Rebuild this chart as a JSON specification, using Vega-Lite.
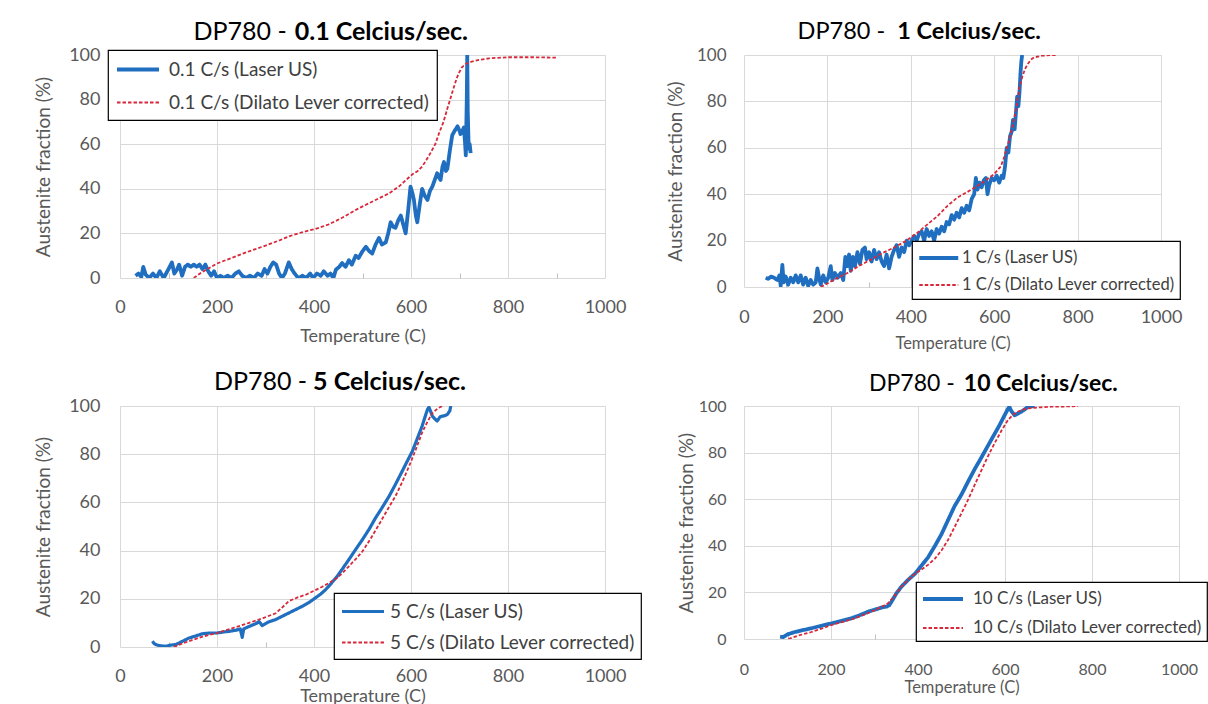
{
  "$schema": "https://vega.github.io/schema/vega-lite/v6.json",
  "background": "white",
  "padding": {"left": 34, "top": 20, "right": 5, "bottom": 3},
  "columns": 2,
  "bounds": "flush",
  "align": "each",
  "spacing": {"row": 119, "column": 139},
  "resolve": {
    "scale": {"color": "independent", "strokeDash": "independent", "strokeWidth": "independent"},
    "legend": {"color": "independent", "strokeDash": "independent", "strokeWidth": "independent"}
  },
  "config": {
    "font": "Lato",
    "view": {"stroke": null},
    "axis": {"domain": false, "labelColor": "#595959", "titleColor": "#595959", "titleFontWeight": "normal", "labelFont": "Lato", "titleFont": "Lato", "gridWidth": 1, "format": "d"},
    "legend": {"labelFont": "Lato", "labelColor": "#404040", "strokeColor": "#000000", "fillColor": "#ffffff", "strokeWidth": 1.2, "labelLimit": 0},
    "text": {"font": "Lato"}
  },
  "datasets": {
    "p1_laser": [{"t":32,"f":1},{"t":38,"f":2},{"t":44,"f":0.5},{"t":48,"f":5},{"t":53,"f":1.5},{"t":60,"f":0},{"t":68,"f":2},{"t":75,"f":0},{"t":82,"f":3},{"t":90,"f":0},{"t":100,"f":4},{"t":107,"f":7},{"t":112,"f":2},{"t":118,"f":4},{"t":122,"f":6},{"t":128,"f":1},{"t":134,"f":5},{"t":140,"f":6},{"t":146,"f":5},{"t":152,"f":6},{"t":158,"f":5},{"t":164,"f":6},{"t":170,"f":4},{"t":176,"f":6},{"t":182,"f":3},{"t":188,"f":1},{"t":194,"f":3},{"t":200,"f":0},{"t":207,"f":1},{"t":214,"f":0},{"t":222,"f":1},{"t":230,"f":0},{"t":238,"f":2},{"t":245,"f":3},{"t":252,"f":1},{"t":260,"f":0},{"t":268,"f":1},{"t":276,"f":0},{"t":284,"f":2},{"t":292,"f":1},{"t":298,"f":4},{"t":304,"f":2},{"t":310,"f":5},{"t":316,"f":7},{"t":322,"f":6},{"t":328,"f":2},{"t":334,"f":0},{"t":340,"f":2},{"t":348,"f":7},{"t":354,"f":4},{"t":360,"f":2},{"t":368,"f":0},{"t":376,"f":1},{"t":384,"f":0},{"t":392,"f":2},{"t":398,"f":0},{"t":406,"f":2},{"t":414,"f":1},{"t":420,"f":3},{"t":428,"f":1},{"t":434,"f":2},{"t":440,"f":0},{"t":445,"f":3.7},{"t":452,"f":5},{"t":458,"f":6.7},{"t":465,"f":5},{"t":472,"f":8},{"t":478,"f":6},{"t":486,"f":10},{"t":492,"f":9},{"t":500,"f":12},{"t":507,"f":14},{"t":514,"f":12},{"t":520,"f":11},{"t":527,"f":15},{"t":534,"f":18},{"t":540,"f":15},{"t":548,"f":16},{"t":553,"f":20},{"t":558,"f":25},{"t":563,"f":23},{"t":568,"f":22.5},{"t":574,"f":26},{"t":579,"f":28},{"t":584,"f":24},{"t":589,"f":20},{"t":594,"f":30},{"t":599,"f":41},{"t":603,"f":38},{"t":606,"f":35},{"t":610,"f":28},{"t":613,"f":25},{"t":618,"f":33},{"t":623,"f":40},{"t":628,"f":37},{"t":634,"f":35},{"t":639,"f":39},{"t":644,"f":41},{"t":649,"f":44},{"t":654,"f":47},{"t":658,"f":45},{"t":661,"f":44},{"t":665,"f":50},{"t":668,"f":52},{"t":672,"f":48},{"t":675,"f":49},{"t":680,"f":57},{"t":685,"f":64},{"t":690,"f":66},{"t":696,"f":68},{"t":700,"f":66},{"t":702,"f":64.5},{"t":706,"f":66},{"t":709,"f":67.5},{"t":711,"f":62},{"t":713,"f":55},{"t":715,"f":80},{"t":716,"f":100},{"t":717,"f":75},{"t":719,"f":58},{"t":721,"f":60},{"t":723,"f":56}],
    "p1_dil": [{"t":152,"f":0},{"t":165,"f":2},{"t":180,"f":4},{"t":200,"f":6.5},{"t":230,"f":9},{"t":260,"f":11.5},{"t":300,"f":14.5},{"t":330,"f":17},{"t":350,"f":18.8},{"t":375,"f":20.5},{"t":403,"f":22},{"t":430,"f":24},{"t":458,"f":27},{"t":490,"f":31},{"t":527,"f":35},{"t":555,"f":38},{"t":575,"f":41},{"t":590,"f":44},{"t":603,"f":46.5},{"t":614,"f":48},{"t":623,"f":50},{"t":632,"f":53},{"t":640,"f":56},{"t":650,"f":60},{"t":658,"f":65},{"t":667,"f":70},{"t":675,"f":76},{"t":682,"f":81},{"t":689,"f":86},{"t":695,"f":90},{"t":699,"f":92},{"t":705,"f":94.5},{"t":713,"f":96},{"t":725,"f":97},{"t":740,"f":97.8},{"t":761,"f":98.5},{"t":800,"f":99},{"t":850,"f":99},{"t":900,"f":98.8}],
    "p2_laser": [{"t":52,"f":4},{"t":58,"f":3.5},{"t":65,"f":4.5},{"t":72,"f":4},{"t":80,"f":3},{"t":85,"f":5},{"t":88,"f":0.5},{"t":92,"f":9.5},{"t":95,"f":2},{"t":100,"f":4.5},{"t":106,"f":1},{"t":112,"f":4},{"t":118,"f":2},{"t":124,"f":5},{"t":130,"f":2},{"t":136,"f":5},{"t":142,"f":1},{"t":148,"f":4},{"t":154,"f":0.5},{"t":160,"f":3},{"t":166,"f":1},{"t":172,"f":2},{"t":176,"f":8},{"t":180,"f":4},{"t":184,"f":1},{"t":190,"f":5},{"t":196,"f":2},{"t":202,"f":4},{"t":208,"f":9},{"t":212,"f":3},{"t":218,"f":6},{"t":225,"f":4},{"t":232,"f":6},{"t":238,"f":3},{"t":243,"f":13},{"t":248,"f":9},{"t":252,"f":14},{"t":256,"f":7},{"t":261,"f":13},{"t":266,"f":9},{"t":272,"f":15},{"t":278,"f":10},{"t":284,"f":16},{"t":290,"f":17},{"t":294,"f":12},{"t":300,"f":15},{"t":306,"f":11},{"t":312,"f":16},{"t":318,"f":12},{"t":324,"f":15},{"t":330,"f":11},{"t":336,"f":9},{"t":342,"f":14},{"t":348,"f":8},{"t":354,"f":13},{"t":360,"f":16},{"t":366,"f":18},{"t":372,"f":13},{"t":378,"f":17},{"t":384,"f":15},{"t":390,"f":20},{"t":396,"f":18},{"t":402,"f":20},{"t":408,"f":22},{"t":414,"f":20},{"t":420,"f":23},{"t":426,"f":24},{"t":432,"f":20},{"t":438,"f":25},{"t":444,"f":22},{"t":450,"f":24},{"t":456,"f":20},{"t":462,"f":25},{"t":468,"f":23},{"t":474,"f":26},{"t":480,"f":24},{"t":486,"f":28},{"t":492,"f":27},{"t":498,"f":31},{"t":504,"f":29},{"t":510,"f":32},{"t":516,"f":30},{"t":522,"f":34},{"t":528,"f":32},{"t":534,"f":35},{"t":540,"f":33},{"t":546,"f":38},{"t":552,"f":40},{"t":556,"f":47},{"t":560,"f":42},{"t":565,"f":45},{"t":570,"f":43},{"t":575,"f":46},{"t":580,"f":47},{"t":584,"f":40},{"t":588,"f":44},{"t":594,"f":47},{"t":600,"f":46},{"t":606,"f":48},{"t":612,"f":45},{"t":618,"f":48},{"t":622,"f":47},{"t":626,"f":52},{"t":630,"f":60},{"t":634,"f":58},{"t":638,"f":65},{"t":642,"f":67},{"t":645,"f":72},{"t":649,"f":68},{"t":652,"f":75},{"t":655,"f":82},{"t":658,"f":78},{"t":661,"f":85},{"t":663,"f":92},{"t":665,"f":97},{"t":667,"f":100}],
    "p2_dil": [{"t":184,"f":0},{"t":200,"f":1.5},{"t":225,"f":4},{"t":248,"f":6},{"t":275,"f":9},{"t":304,"f":11.8},{"t":330,"f":14.5},{"t":360,"f":17},{"t":390,"f":20},{"t":416,"f":23.4},{"t":440,"f":27},{"t":464,"f":30.6},{"t":488,"f":35},{"t":512,"f":38.6},{"t":536,"f":41},{"t":560,"f":43.6},{"t":580,"f":46},{"t":600,"f":48.7},{"t":616,"f":52},{"t":624,"f":56},{"t":632,"f":61},{"t":640,"f":66},{"t":648,"f":72.5},{"t":655,"f":79},{"t":660,"f":85.5},{"t":664,"f":88.5},{"t":668,"f":91},{"t":674,"f":94},{"t":680,"f":96},{"t":688,"f":98},{"t":696,"f":99},{"t":715,"f":99.7},{"t":736,"f":100},{"t":748,"f":100}],
    "p3_laser": [{"t":67,"f":2.4},{"t":70,"f":1.5},{"t":74,"f":1},{"t":80,"f":0.6},{"t":94,"f":0.3},{"t":105,"f":0.8},{"t":115,"f":1},{"t":125,"f":2},{"t":135,"f":3},{"t":142,"f":3.7},{"t":155,"f":4.5},{"t":170,"f":5.5},{"t":185,"f":5.8},{"t":200,"f":5.8},{"t":212,"f":6.2},{"t":225,"f":6.5},{"t":240,"f":7},{"t":248,"f":7.5},{"t":252,"f":4},{"t":255,"f":7.5},{"t":266,"f":8.5},{"t":280,"f":9.7},{"t":287,"f":10.5},{"t":293,"f":8.9},{"t":305,"f":10.3},{"t":321,"f":11.4},{"t":335,"f":12.8},{"t":348,"f":14.1},{"t":362,"f":15.5},{"t":376,"f":16.9},{"t":390,"f":18.5},{"t":403,"f":20.4},{"t":414,"f":22},{"t":424,"f":23.8},{"t":436,"f":26.5},{"t":448,"f":29.4},{"t":460,"f":32.8},{"t":472,"f":36.3},{"t":486,"f":40.5},{"t":500,"f":44.6},{"t":514,"f":49},{"t":527,"f":53.6},{"t":541,"f":58},{"t":555,"f":62.6},{"t":568,"f":67.5},{"t":582,"f":73},{"t":592,"f":77},{"t":603,"f":81.3},{"t":613,"f":86.5},{"t":623,"f":91.7},{"t":629,"f":95.5},{"t":634,"f":98.6},{"t":637,"f":99.5},{"t":640,"f":98},{"t":644,"f":95.8},{"t":650,"f":94.5},{"t":654,"f":93.8},{"t":660,"f":95.5},{"t":665,"f":95.8},{"t":670,"f":96},{"t":675,"f":96.5},{"t":680,"f":98},{"t":682,"f":100}],
    "p3_dil": [{"t":111,"f":0},{"t":125,"f":1.2},{"t":142,"f":2.4},{"t":170,"f":4.3},{"t":200,"f":5.8},{"t":235,"f":8},{"t":266,"f":10},{"t":295,"f":12},{"t":321,"f":14},{"t":335,"f":16.5},{"t":348,"f":19},{"t":365,"f":20.5},{"t":383,"f":21.7},{"t":400,"f":23.3},{"t":417,"f":25},{"t":433,"f":26.8},{"t":448,"f":28.7},{"t":460,"f":31},{"t":472,"f":33.5},{"t":486,"f":36.5},{"t":500,"f":39.7},{"t":517,"f":45},{"t":534,"f":50.8},{"t":551,"f":56.8},{"t":568,"f":62.6},{"t":582,"f":68.5},{"t":596,"f":75},{"t":610,"f":82},{"t":623,"f":89},{"t":634,"f":93.5},{"t":644,"f":97},{"t":655,"f":99},{"t":665,"f":100}],
    "p4_laser": [{"t":83,"f":1},{"t":90,"f":0.8},{"t":100,"f":2},{"t":117,"f":3},{"t":135,"f":3.8},{"t":155,"f":4.6},{"t":178,"f":5.7},{"t":201,"f":6.7},{"t":225,"f":7.8},{"t":247,"f":8.9},{"t":266,"f":10.2},{"t":285,"f":11.7},{"t":297,"f":12.4},{"t":308,"f":13},{"t":318,"f":13.6},{"t":328,"f":13.9},{"t":334,"f":14.5},{"t":339,"f":16},{"t":350,"f":19.5},{"t":362,"f":22.5},{"t":378,"f":25.5},{"t":393,"f":28},{"t":408,"f":31.5},{"t":423,"f":35},{"t":439,"f":40},{"t":454,"f":45},{"t":469,"f":51},{"t":484,"f":57},{"t":500,"f":62},{"t":515,"f":67.5},{"t":530,"f":72.8},{"t":546,"f":78},{"t":561,"f":83},{"t":576,"f":88},{"t":588,"f":92},{"t":599,"f":96},{"t":606,"f":98.5},{"t":610,"f":99.7},{"t":614,"f":98},{"t":622,"f":96},{"t":630,"f":96.8},{"t":637,"f":97.5},{"t":645,"f":98.5},{"t":653,"f":99.7},{"t":668,"f":100}],
    "p4_dil": [{"t":102,"f":0},{"t":125,"f":1.5},{"t":155,"f":3},{"t":180,"f":4.6},{"t":201,"f":6},{"t":230,"f":7.5},{"t":255,"f":8.9},{"t":280,"f":10.7},{"t":301,"f":12.4},{"t":316,"f":13.8},{"t":331,"f":15.3},{"t":346,"f":18.5},{"t":362,"f":22.5},{"t":378,"f":25.5},{"t":393,"f":28},{"t":408,"f":29.8},{"t":423,"f":31.8},{"t":439,"f":34.5},{"t":454,"f":38},{"t":469,"f":42.5},{"t":484,"f":48},{"t":500,"f":54},{"t":515,"f":59.7},{"t":530,"f":66},{"t":546,"f":72.5},{"t":561,"f":78.5},{"t":576,"f":84},{"t":592,"f":89.5},{"t":607,"f":94},{"t":618,"f":96.2},{"t":630,"f":97.6},{"t":641,"f":98.4},{"t":653,"f":99},{"t":680,"f":99.4},{"t":706,"f":99.7},{"t":740,"f":99.8},{"t":768,"f":100}]
  },
  "concat": [
    {
      "width": 485, "height": 223,
      "layer": [
        {"data": {"name": "p1_laser"}, "mark": {"type": "line", "clip": true, "strokeJoin": "round"},
          "encoding": {
            "x": {"field": "t", "type": "quantitative", "scale": {"domain": [0, 1000], "nice": false},
              "axis": {"title": "Temperature (C)", "values": [0,100,200,300,400,500,600,700,800,900,1000], "labelExpr": "datum.value % 200 === 0 ? datum.label : ''", "gridColor": {"condition": {"test": "datum.value % 200 !== 0", "value": "rgba(0,0,0,0)"}, "value": "#d9d9d9"}, "tickColor": {"condition": {"test": "datum.value % 200 !== 0", "value": "#bfbfbf"}, "value": "rgba(0,0,0,0)"}, "tickSize": -5, "labelPadding": 25, "labelFontSize": 18, "titleFontSize": 18, "titlePadding": 11, "labelFlush": false, "labelOverlap": false}},
            "y": {"field": "f", "type": "quantitative", "scale": {"domain": [0, 100], "nice": false},
              "axis": {"title": "Austenite fraction (%)", "values": [0,10,20,30,40,50,60,70,80,90,100], "labelExpr": "datum.value % 20 === 0 ? datum.label : ''", "gridColor": {"condition": {"test": "datum.value % 20 !== 0", "value": "rgba(0,0,0,0)"}, "value": "#d9d9d9"}, "tickColor": {"condition": {"test": "datum.value % 20 !== 0", "value": "#bfbfbf"}, "value": "rgba(0,0,0,0)"}, "tickSize": -5, "labelPadding": 25, "labelFontSize": 18, "titleFontSize": 19, "titlePadding": 15, "labelOverlap": false}},
            "color": {"datum": "0.1 C/s (Laser US)", "type": "nominal", "scale": {"domain": ["0.1 C/s (Laser US)", "0.1 C/s (Dilato Lever corrected)"], "range": ["#1f6ebf", "#d8283a"]}, "legend": {"orient": "none", "legendX": -12, "legendY": -5, "title": null, "padding": 7, "labelFontSize": 19, "symbolType": "M-1,0H3", "symbolSize": 441, "labelOffset": 29, "rowPadding": 11}},
            "strokeDash": {"datum": "0.1 C/s (Laser US)", "type": "nominal", "scale": {"domain": ["0.1 C/s (Laser US)", "0.1 C/s (Dilato Lever corrected)"], "range": [[1, 0], [3.5, 2]]}, "legend": {"orient": "none", "legendX": -12, "legendY": -5, "title": null, "padding": 7, "labelFontSize": 19, "symbolType": "M-1,0H3", "symbolSize": 441, "labelOffset": 29, "rowPadding": 11}},
            "strokeWidth": {"datum": "0.1 C/s (Laser US)", "type": "ordinal", "scale": {"domain": ["0.1 C/s (Laser US)", "0.1 C/s (Dilato Lever corrected)"], "range": [3.8, 1.8]}, "legend": {"orient": "none", "legendX": -12, "legendY": -5, "title": null, "padding": 7, "labelFontSize": 19, "symbolType": "M-1,0H3", "symbolSize": 441, "labelOffset": 29, "rowPadding": 11}}
          }},
        {"data": {"name": "p1_dil"}, "mark": {"type": "line", "clip": true},
          "encoding": {
            "x": {"field": "t", "type": "quantitative", "scale": {"domain": [0, 1000], "nice": false}},
            "y": {"field": "f", "type": "quantitative", "scale": {"domain": [0, 100], "nice": false}},
            "color": {"datum": "0.1 C/s (Dilato Lever corrected)", "type": "nominal"},
            "strokeDash": {"datum": "0.1 C/s (Dilato Lever corrected)", "type": "nominal"},
            "strokeWidth": {"datum": "0.1 C/s (Dilato Lever corrected)", "type": "ordinal"}
          }},
        {"data": {"values": [{"k": 1}]}, "mark": {"type": "text", "text": "DP780 -", "align": "right", "baseline": "middle", "fontSize": 25, "dx": -4, "color": "#000000"},
          "encoding": {"x": {"datum": 352, "type": "quantitative"}, "y": {"datum": 110.2, "type": "quantitative"}}},
        {"data": {"values": [{"k": 1}]}, "mark": {"type": "text", "text": "0.1 Celcius/sec.", "align": "left", "baseline": "middle", "fontSize": 25, "fontWeight": "bold", "dx": 4, "color": "#000000"},
          "encoding": {"x": {"datum": 352, "type": "quantitative"}, "y": {"datum": 110.2, "type": "quantitative"}}}
      ]
    },
    {
      "width": 417, "height": 232,
      "layer": [
        {"data": {"name": "p2_laser"}, "mark": {"type": "line", "clip": true, "strokeJoin": "round"},
          "encoding": {
            "x": {"field": "t", "type": "quantitative", "scale": {"domain": [0, 1000], "nice": false},
              "axis": {"title": "Temperature (C)", "values": [0,100,200,300,400,500,600,700,800,900,1000], "labelExpr": "datum.value % 200 === 0 ? datum.label : ''", "gridColor": {"condition": {"test": "datum.value % 200 !== 0", "value": "rgba(0,0,0,0)"}, "value": "#d9d9d9"}, "tickColor": {"condition": {"test": "datum.value % 200 !== 0", "value": "#bfbfbf"}, "value": "rgba(0,0,0,0)"}, "tickSize": -5, "labelPadding": 26, "labelFontSize": 18, "titleFontSize": 16.5, "titlePadding": 9, "labelFlush": false, "labelOverlap": false}},
            "y": {"field": "f", "type": "quantitative", "scale": {"domain": [0, 100], "nice": false},
              "axis": {"title": "Austenite fraction (%)", "values": [0,10,20,30,40,50,60,70,80,90,100], "labelExpr": "datum.value % 20 === 0 ? datum.label : ''", "gridColor": {"condition": {"test": "datum.value % 20 !== 0", "value": "rgba(0,0,0,0)"}, "value": "#d9d9d9"}, "tickColor": {"condition": {"test": "datum.value % 20 !== 0", "value": "#bfbfbf"}, "value": "rgba(0,0,0,0)"}, "tickSize": -5, "labelPadding": 23, "labelFontSize": 17, "titleFontSize": 19, "titlePadding": 11, "labelOverlap": false}},
            "color": {"datum": "1 C/s (Laser US)", "type": "nominal", "scale": {"domain": ["1 C/s (Laser US)", "1 C/s (Dilato Lever corrected)"], "range": ["#1f6ebf", "#d8283a"]}, "legend": {"orient": "none", "legendX": 168, "legendY": 186, "title": null, "padding": 5, "labelFontSize": 16.5, "symbolType": "M-1,0H3", "symbolSize": 380, "labelOffset": 21, "rowPadding": 7}},
            "strokeDash": {"datum": "1 C/s (Laser US)", "type": "nominal", "scale": {"domain": ["1 C/s (Laser US)", "1 C/s (Dilato Lever corrected)"], "range": [[1, 0], [3.5, 2]]}, "legend": {"orient": "none", "legendX": 168, "legendY": 186, "title": null, "padding": 5, "labelFontSize": 16.5, "symbolType": "M-1,0H3", "symbolSize": 380, "labelOffset": 21, "rowPadding": 7}},
            "strokeWidth": {"datum": "1 C/s (Laser US)", "type": "ordinal", "scale": {"domain": ["1 C/s (Laser US)", "1 C/s (Dilato Lever corrected)"], "range": [3.8, 1.8]}, "legend": {"orient": "none", "legendX": 168, "legendY": 186, "title": null, "padding": 5, "labelFontSize": 16.5, "symbolType": "M-1,0H3", "symbolSize": 380, "labelOffset": 21, "rowPadding": 7}}
          }},
        {"data": {"name": "p2_dil"}, "mark": {"type": "line", "clip": true},
          "encoding": {
            "x": {"field": "t", "type": "quantitative", "scale": {"domain": [0, 1000], "nice": false}},
            "y": {"field": "f", "type": "quantitative", "scale": {"domain": [0, 100], "nice": false}},
            "color": {"datum": "1 C/s (Dilato Lever corrected)", "type": "nominal"},
            "strokeDash": {"datum": "1 C/s (Dilato Lever corrected)", "type": "nominal"},
            "strokeWidth": {"datum": "1 C/s (Dilato Lever corrected)", "type": "ordinal"}
          }},
        {"data": {"values": [{"k": 1}]}, "mark": {"type": "text", "text": "DP780 -", "align": "right", "baseline": "middle", "fontSize": 23.5, "dx": -6, "color": "#000000"},
          "encoding": {"x": {"datum": 353, "type": "quantitative"}, "y": {"datum": 109.8, "type": "quantitative"}}},
        {"data": {"values": [{"k": 1}]}, "mark": {"type": "text", "text": "1 Celcius/sec.", "align": "left", "baseline": "middle", "fontSize": 23.5, "fontWeight": "bold", "dx": 6, "color": "#000000"},
          "encoding": {"x": {"datum": 353, "type": "quantitative"}, "y": {"datum": 109.8, "type": "quantitative"}}}
      ]
    },
    {
      "width": 485, "height": 241,
      "layer": [
        {"data": {"name": "p3_laser"}, "mark": {"type": "line", "clip": true, "strokeJoin": "round"},
          "encoding": {
            "x": {"field": "t", "type": "quantitative", "scale": {"domain": [0, 1000], "nice": false},
              "axis": {"title": "Temperature (C)", "values": [0,100,200,300,400,500,600,700,800,900,1000], "labelExpr": "datum.value % 200 === 0 ? datum.label : ''", "gridColor": {"condition": {"test": "datum.value % 200 !== 0", "value": "rgba(0,0,0,0)"}, "value": "#d9d9d9"}, "tickColor": {"condition": {"test": "datum.value % 200 !== 0", "value": "#bfbfbf"}, "value": "rgba(0,0,0,0)"}, "tickSize": -5, "labelPadding": 25, "labelFontSize": 18, "titleFontSize": 18, "titlePadding": 2, "labelFlush": false, "labelOverlap": false}},
            "y": {"field": "f", "type": "quantitative", "scale": {"domain": [0, 100], "nice": false},
              "axis": {"title": "Austenite fraction (%)", "values": [0,10,20,30,40,50,60,70,80,90,100], "labelExpr": "datum.value % 20 === 0 ? datum.label : ''", "gridColor": {"condition": {"test": "datum.value % 20 !== 0", "value": "rgba(0,0,0,0)"}, "value": "#d9d9d9"}, "tickColor": {"condition": {"test": "datum.value % 20 !== 0", "value": "#bfbfbf"}, "value": "rgba(0,0,0,0)"}, "tickSize": -5, "labelPadding": 25, "labelFontSize": 18, "titleFontSize": 19, "titlePadding": 15, "labelOverlap": false}},
            "color": {"datum": "5 C/s (Laser US)", "type": "nominal", "scale": {"domain": ["5 C/s (Laser US)", "5 C/s (Dilato Lever corrected)"], "range": ["#1f6ebf", "#d8283a"]}, "legend": {"orient": "none", "legendX": 214, "legendY": 187, "title": null, "padding": 6, "labelFontSize": 19, "symbolType": "M-1,0H3", "symbolSize": 441, "labelOffset": 25, "rowPadding": 9}},
            "strokeDash": {"datum": "5 C/s (Laser US)", "type": "nominal", "scale": {"domain": ["5 C/s (Laser US)", "5 C/s (Dilato Lever corrected)"], "range": [[1, 0], [3.5, 2]]}, "legend": {"orient": "none", "legendX": 214, "legendY": 187, "title": null, "padding": 6, "labelFontSize": 19, "symbolType": "M-1,0H3", "symbolSize": 441, "labelOffset": 25, "rowPadding": 9}},
            "strokeWidth": {"datum": "5 C/s (Laser US)", "type": "ordinal", "scale": {"domain": ["5 C/s (Laser US)", "5 C/s (Dilato Lever corrected)"], "range": [3.2, 1.8]}, "legend": {"orient": "none", "legendX": 214, "legendY": 187, "title": null, "padding": 6, "labelFontSize": 19, "symbolType": "M-1,0H3", "symbolSize": 441, "labelOffset": 25, "rowPadding": 9}}
          }},
        {"data": {"name": "p3_dil"}, "mark": {"type": "line", "clip": true},
          "encoding": {
            "x": {"field": "t", "type": "quantitative", "scale": {"domain": [0, 1000], "nice": false}},
            "y": {"field": "f", "type": "quantitative", "scale": {"domain": [0, 100], "nice": false}},
            "color": {"datum": "5 C/s (Dilato Lever corrected)", "type": "nominal"},
            "strokeDash": {"datum": "5 C/s (Dilato Lever corrected)", "type": "nominal"},
            "strokeWidth": {"datum": "5 C/s (Dilato Lever corrected)", "type": "ordinal"}
          }},
        {"data": {"values": [{"k": 1}]}, "mark": {"type": "text", "text": "DP780 -", "align": "right", "baseline": "middle", "fontSize": 25, "dx": -3, "color": "#000000"},
          "encoding": {"x": {"datum": 392, "type": "quantitative"}, "y": {"datum": 110.1, "type": "quantitative"}}},
        {"data": {"values": [{"k": 1}]}, "mark": {"type": "text", "text": "5 Celcius/sec.", "align": "left", "baseline": "middle", "fontSize": 25, "fontWeight": "bold", "dx": 3, "color": "#000000"},
          "encoding": {"x": {"datum": 392, "type": "quantitative"}, "y": {"datum": 110.1, "type": "quantitative"}}}
      ]
    },
    {
      "width": 435, "height": 233,
      "layer": [
        {"data": {"name": "p4_laser"}, "mark": {"type": "line", "clip": true, "strokeJoin": "round"},
          "encoding": {
            "x": {"field": "t", "type": "quantitative", "scale": {"domain": [0, 1000], "nice": false},
              "axis": {"title": "Temperature (C)", "values": [0,100,200,300,400,500,600,700,800,900,1000], "labelExpr": "datum.value % 200 === 0 ? datum.label : ''", "gridColor": {"condition": {"test": "datum.value % 200 !== 0", "value": "rgba(0,0,0,0)"}, "value": "#d9d9d9"}, "tickColor": {"condition": {"test": "datum.value % 200 !== 0", "value": "#bfbfbf"}, "value": "rgba(0,0,0,0)"}, "tickSize": -5, "labelPadding": 27, "labelFontSize": 16, "titleFontSize": 16.5, "titlePadding": 2, "labelFlush": false, "labelOverlap": false}},
            "y": {"field": "f", "type": "quantitative", "scale": {"domain": [0, 100], "nice": false},
              "axis": {"title": "Austenite fraction (%)", "values": [0,10,20,30,40,50,60,70,80,90,100], "labelExpr": "datum.value % 20 === 0 ? datum.label : ''", "gridColor": {"condition": {"test": "datum.value % 20 !== 0", "value": "rgba(0,0,0,0)"}, "value": "#d9d9d9"}, "tickColor": {"condition": {"test": "datum.value % 20 !== 0", "value": "#bfbfbf"}, "value": "rgba(0,0,0,0)"}, "tickSize": -5, "labelPadding": 23, "labelFontSize": 16, "titleFontSize": 19, "titlePadding": 2, "labelOverlap": false}},
            "color": {"datum": "10 C/s (Laser US)", "type": "nominal", "scale": {"domain": ["10 C/s (Laser US)", "10 C/s (Dilato Lever corrected)"], "range": ["#1f6ebf", "#d8283a"]}, "legend": {"orient": "none", "legendX": 172, "legendY": 176, "title": null, "padding": 5, "labelFontSize": 17, "symbolType": "M-1,0H3", "symbolSize": 400, "labelOffset": 28, "rowPadding": 10}},
            "strokeDash": {"datum": "10 C/s (Laser US)", "type": "nominal", "scale": {"domain": ["10 C/s (Laser US)", "10 C/s (Dilato Lever corrected)"], "range": [[1, 0], [3.5, 2]]}, "legend": {"orient": "none", "legendX": 172, "legendY": 176, "title": null, "padding": 5, "labelFontSize": 17, "symbolType": "M-1,0H3", "symbolSize": 400, "labelOffset": 28, "rowPadding": 10}},
            "strokeWidth": {"datum": "10 C/s (Laser US)", "type": "ordinal", "scale": {"domain": ["10 C/s (Laser US)", "10 C/s (Dilato Lever corrected)"], "range": [3.8, 1.8]}, "legend": {"orient": "none", "legendX": 172, "legendY": 176, "title": null, "padding": 5, "labelFontSize": 17, "symbolType": "M-1,0H3", "symbolSize": 400, "labelOffset": 28, "rowPadding": 10}}
          }},
        {"data": {"name": "p4_dil"}, "mark": {"type": "line", "clip": true},
          "encoding": {
            "x": {"field": "t", "type": "quantitative", "scale": {"domain": [0, 1000], "nice": false}},
            "y": {"field": "f", "type": "quantitative", "scale": {"domain": [0, 100], "nice": false}},
            "color": {"datum": "10 C/s (Dilato Lever corrected)", "type": "nominal"},
            "strokeDash": {"datum": "10 C/s (Dilato Lever corrected)", "type": "nominal"},
            "strokeWidth": {"datum": "10 C/s (Dilato Lever corrected)", "type": "ordinal"}
          }},
        {"data": {"values": [{"k": 1}]}, "mark": {"type": "text", "text": "DP780  -", "align": "right", "baseline": "middle", "fontSize": 23, "dx": -4.5, "color": "#000000"},
          "encoding": {"x": {"datum": 495, "type": "quantitative"}, "y": {"datum": 109.6, "type": "quantitative"}}},
        {"data": {"values": [{"k": 1}]}, "mark": {"type": "text", "text": "10 Celcius/sec.", "align": "left", "baseline": "middle", "fontSize": 23, "fontWeight": "bold", "dx": 4.5, "color": "#000000"},
          "encoding": {"x": {"datum": 495, "type": "quantitative"}, "y": {"datum": 109.6, "type": "quantitative"}}}
      ]
    }
  ]
}
